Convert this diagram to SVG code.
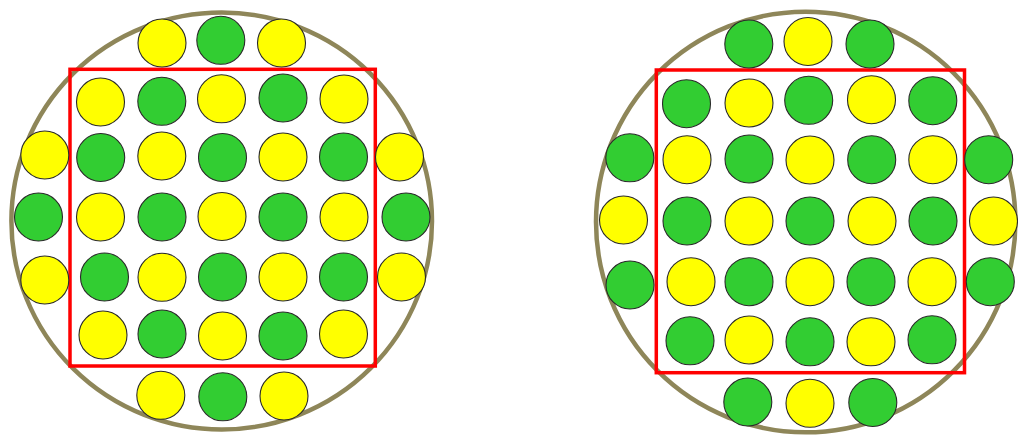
<svg xmlns="http://www.w3.org/2000/svg" width="1018" height="439" viewBox="0 0 1018 439">
<style>
.ring{fill:none;stroke:#8E8659;stroke-width:4.5}
.sq{fill:none;stroke:#FF0000;stroke-width:3.5}
.y{fill:#FFFF00;stroke:#2a2a2a;stroke-width:1.1}
.g{fill:#32CD32;stroke:#2a2a2a;stroke-width:1.1}
</style>
<rect width="1018" height="439" fill="#FFFFFF"/>
<g id="connectors"/>
<g id="left-diagram">
<g id="L-ring"><ellipse class="ring" cx="221.7" cy="221" rx="210.3" ry="208.5"/></g>
<g id="L-square"><rect class="sq" x="70" y="69.3" width="305.3" height="296.7"/></g>
<g id="L-t1"><circle class="y" cx="162" cy="43" r="24"/></g>
<g id="L-t2"><circle class="g" cx="220.8" cy="40.3" r="24"/></g>
<g id="L-t3"><circle class="y" cx="281.5" cy="43" r="24"/></g>
<g id="L-r1c1"><circle class="y" cx="100.5" cy="102" r="24"/></g>
<g id="L-r1c2"><circle class="g" cx="161.8" cy="101.3" r="24"/></g>
<g id="L-r1c3"><circle class="y" cx="221.5" cy="98.8" r="24"/></g>
<g id="L-r1c4"><circle class="g" cx="283" cy="98" r="24"/></g>
<g id="L-r1c5"><circle class="y" cx="344" cy="99" r="24"/></g>
<g id="L-r2o1"><circle class="y" cx="44.8" cy="155" r="24"/></g>
<g id="L-r2c1"><circle class="g" cx="100.7" cy="157.5" r="24"/></g>
<g id="L-r2c2"><circle class="y" cx="161.8" cy="156" r="24"/></g>
<g id="L-r2c3"><circle class="g" cx="222.5" cy="157.5" r="24"/></g>
<g id="L-r2c4"><circle class="y" cx="283" cy="157" r="24"/></g>
<g id="L-r2c5"><circle class="g" cx="343.5" cy="157" r="24"/></g>
<g id="L-r2o2"><circle class="y" cx="399.5" cy="157" r="24"/></g>
<g id="L-r3o1"><circle class="g" cx="38.5" cy="217" r="24"/></g>
<g id="L-r3c1"><circle class="y" cx="100.5" cy="217" r="24"/></g>
<g id="L-r3c2"><circle class="g" cx="162" cy="217" r="24"/></g>
<g id="L-r3c3"><circle class="y" cx="222" cy="216.5" r="24"/></g>
<g id="L-r3c4"><circle class="g" cx="283" cy="217" r="24"/></g>
<g id="L-r3c5"><circle class="y" cx="344" cy="217" r="24"/></g>
<g id="L-r3o2"><circle class="g" cx="406" cy="217" r="24"/></g>
<g id="L-r4o1"><circle class="y" cx="44.8" cy="280" r="24"/></g>
<g id="L-r4c1"><circle class="g" cx="104.5" cy="277" r="24"/></g>
<g id="L-r4c2"><circle class="y" cx="162" cy="277.3" r="24"/></g>
<g id="L-r4c3"><circle class="g" cx="222.5" cy="277" r="24"/></g>
<g id="L-r4c4"><circle class="y" cx="283" cy="277" r="24"/></g>
<g id="L-r4c5"><circle class="g" cx="343.5" cy="277" r="24"/></g>
<g id="L-r4o2"><circle class="y" cx="401.5" cy="277" r="24"/></g>
<g id="L-r5c1"><circle class="y" cx="103" cy="335" r="24"/></g>
<g id="L-r5c2"><circle class="g" cx="162" cy="334" r="24"/></g>
<g id="L-r5c3"><circle class="y" cx="222.5" cy="336" r="24"/></g>
<g id="L-r5c4"><circle class="g" cx="283" cy="336" r="24"/></g>
<g id="L-r5c5"><circle class="y" cx="343.5" cy="334" r="24"/></g>
<g id="L-b1"><circle class="y" cx="160.8" cy="395.3" r="24"/></g>
<g id="L-b2"><circle class="g" cx="222.8" cy="396.8" r="24"/></g>
<g id="L-b3"><circle class="y" cx="284" cy="396" r="24"/></g>
</g>
<g id="right-diagram">
<g id="R-ring"><ellipse class="ring" cx="805.7" cy="222" rx="209.7" ry="210.3"/></g>
<g id="R-square"><rect class="sq" x="656.3" y="70" width="308.2" height="302.7"/></g>
<g id="R-t1"><circle class="g" cx="748.8" cy="44" r="24"/></g>
<g id="R-t2"><circle class="y" cx="808" cy="41.5" r="24"/></g>
<g id="R-t3"><circle class="g" cx="870" cy="44" r="24"/></g>
<g id="R-r1c1"><circle class="g" cx="686.5" cy="103.7" r="24"/></g>
<g id="R-r1c2"><circle class="y" cx="749" cy="103" r="24"/></g>
<g id="R-r1c3"><circle class="g" cx="808.7" cy="100.3" r="24"/></g>
<g id="R-r1c4"><circle class="y" cx="871.5" cy="99.7" r="24"/></g>
<g id="R-r1c5"><circle class="g" cx="932.8" cy="100.7" r="24"/></g>
<g id="R-r2o1"><circle class="g" cx="629.8" cy="157.8" r="24"/></g>
<g id="R-r2c1"><circle class="y" cx="687" cy="159.7" r="24"/></g>
<g id="R-r2c2"><circle class="g" cx="749" cy="159" r="24"/></g>
<g id="R-r2c3"><circle class="y" cx="810" cy="160" r="24"/></g>
<g id="R-r2c4"><circle class="g" cx="871.7" cy="159.7" r="24"/></g>
<g id="R-r2c5"><circle class="y" cx="932.8" cy="159.7" r="24"/></g>
<g id="R-r2o2"><circle class="g" cx="988.7" cy="159.7" r="24"/></g>
<g id="R-r3o1"><circle class="y" cx="623.5" cy="220" r="24"/></g>
<g id="R-r3c1"><circle class="g" cx="687" cy="221" r="24"/></g>
<g id="R-r3c2"><circle class="y" cx="749" cy="221" r="24"/></g>
<g id="R-r3c3"><circle class="g" cx="810" cy="221" r="24"/></g>
<g id="R-r3c4"><circle class="y" cx="872" cy="221" r="24"/></g>
<g id="R-r3c5"><circle class="g" cx="933" cy="221" r="24"/></g>
<g id="R-r3o2"><circle class="y" cx="993.5" cy="221" r="24"/></g>
<g id="R-r4o1"><circle class="g" cx="630" cy="285" r="24"/></g>
<g id="R-r4c1"><circle class="y" cx="691" cy="281.7" r="24"/></g>
<g id="R-r4c2"><circle class="g" cx="749" cy="281.7" r="24"/></g>
<g id="R-r4c3"><circle class="y" cx="810" cy="281.7" r="24"/></g>
<g id="R-r4c4"><circle class="g" cx="871" cy="281.7" r="24"/></g>
<g id="R-r4c5"><circle class="y" cx="932" cy="281.7" r="24"/></g>
<g id="R-r4o2"><circle class="g" cx="990.3" cy="281.7" r="24"/></g>
<g id="R-r5c1"><circle class="g" cx="690" cy="340.8" r="24"/></g>
<g id="R-r5c2"><circle class="y" cx="749" cy="340" r="24"/></g>
<g id="R-r5c3"><circle class="g" cx="810" cy="341.8" r="24"/></g>
<g id="R-r5c4"><circle class="y" cx="871" cy="341.8" r="24"/></g>
<g id="R-r5c5"><circle class="g" cx="932" cy="339.8" r="24"/></g>
<g id="R-b1"><circle class="g" cx="747.8" cy="402" r="24"/></g>
<g id="R-b2"><circle class="y" cx="810" cy="403.3" r="24"/></g>
<g id="R-b3"><circle class="g" cx="872.8" cy="402.5" r="24"/></g>
</g>
</svg>
